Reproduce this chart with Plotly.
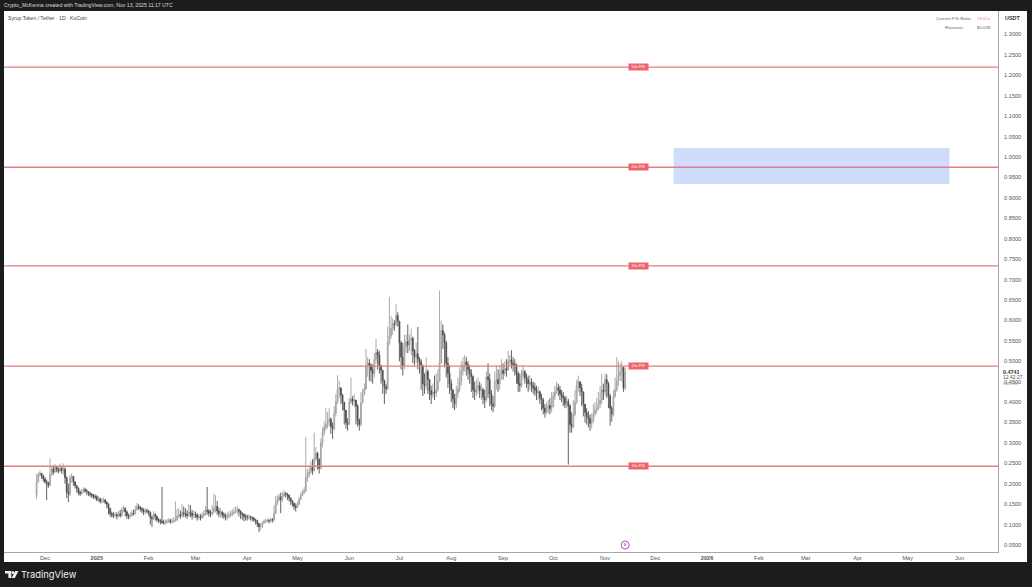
import pandas as pd
import plotly.graph_objects as go

start_date = "2024-11-26"
first_open = 0.172

close_2024 = [
 .205,.222,.226,.219,.212,
 .205,.203,.196,.221,.236,.228,.240,.236,.231,.238,.232,.236,.215,.180,.175,.214,.218,.205,.196,.190,.180,.176,.180,.186,.183,.181,.176,.174,.172,.169,.168]
high_2024 = [
 .224,.228,.232,.226,.222,
 .216,.210,.205,.262,.243,.245,.248,.244,.240,.249,.242,.250,.240,.218,.200,.222,.226,.216,.205,.196,.190,.184,.187,.192,.190,.187,.182,.180,.177,.175,.174]
low_2024 = [
 .163,.203,.218,.212,.205,
 .200,.160,.190,.195,.220,.222,.230,.228,.225,.228,.225,.222,.200,.165,.155,.170,.202,.195,.188,.178,.172,.170,.172,.178,.178,.172,.170,.168,.165,.163,.162]

close_q1 = [
 .160,.163,.157,.158,.160,.155,.150,.140,.127,.123,.122,.124,.121,.126,.122,.135,.140,.131,.122,.119,.122,.128,.126,.136,.144,.142,.139,.136,.131,.134,.133,
 .130,.118,.114,.125,.120,.112,.110,.108,.105,.104,.106,.108,.110,.107,.108,.110,.112,.121,.124,.121,.129,.127,.126,.122,.130,.128,.122,.125,
 .124,.118,.120,.116,.122,.126,.135,.133,.128,.126,.130,.140,.145,.133,.127,.130,.125,.122,.118,.120,.123,.125,.128,.130,.134,.136,.133,.128,.124,.120,.119]
high_q1 = [
 .172,.170,.166,.165,.166,.163,.157,.152,.140,.132,.130,.131,.130,.133,.136,.143,.147,.142,.135,.127,.130,.135,.137,.146,.153,.150,.146,.143,.140,.140,.139,
 .136,.132,.122,.133,.128,.122,.116,.114,.192,.112,.112,.114,.116,.114,.115,.118,.157,.138,.140,.134,.150,.144,.140,.135,.150,.148,.136,.134,
 .132,.128,.126,.126,.130,.135,.145,.192,.138,.136,.148,.175,.172,.158,.142,.140,.134,.130,.127,.130,.132,.134,.137,.142,.144,.146,.140,.135,.130,.128,.126]
low_q1 = [
 .158,.155,.152,.152,.153,.150,.140,.125,.119,.117,.116,.118,.113,.118,.117,.120,.130,.120,.114,.113,.115,.120,.122,.125,.136,.136,.132,.128,.123,.126,.127,
 .122,.100,.094,.112,.110,.106,.104,.100,.102,.100,.100,.102,.104,.102,.103,.104,.106,.108,.116,.114,.118,.118,.118,.114,.120,.118,.112,.116,
 .116,.110,.112,.110,.114,.118,.122,.124,.120,.118,.122,.128,.130,.124,.118,.118,.116,.114,.110,.112,.115,.118,.120,.124,.128,.126,.120,.114,.112,.108,.110]

close_q2 = [
 .118,.119,.117,.116,.112,.110,.102,.095,.096,.103,.108,.110,.110,.109,.112,.111,.128,.152,.160,.168,.161,.170,.176,.174,.172,.165,.158,.152,.145,.142,
 .150,.162,.172,.178,.182,.215,.222,.228,.240,.232,.262,.275,.260,.238,.300,.325,.338,.345,.352,.358,.340,.335,.372,.402,.430,.435,.417,.400,.380,.350,.345,
 .400,.408,.402,.405,.390,.355,.345,.398,.418,.432,.488,.495,.490,.478,.470,.505,.522,.515,.490,.478,.452,.438,.432,.545,.562,.580,.592,.590,.612,.598]
high_q2 = [
 .124,.125,.122,.120,.118,.114,.110,.104,.104,.108,.112,.115,.115,.114,.117,.116,.146,.170,.172,.176,.178,.180,.184,.180,.178,.174,.166,.160,.154,.152,
 .156,.168,.178,.186,.192,.315,.235,.240,.255,.260,.325,.290,.278,.262,.310,.338,.352,.385,.375,.385,.362,.350,.390,.420,.466,.452,.432,.420,.395,.370,.360,
 .410,.460,.415,.420,.405,.395,.360,.425,.432,.445,.530,.510,.505,.495,.492,.520,.555,.530,.525,.490,.470,.455,.445,.585,.658,.610,.605,.600,.640,.620]
low_q2 = [
 .110,.112,.110,.108,.106,.100,.094,.082,.086,.092,.102,.104,.104,.103,.105,.105,.108,.126,.148,.158,.128,.155,.168,.166,.160,.156,.148,.144,.136,.132,
 .142,.148,.160,.170,.175,.180,.205,.215,.225,.222,.230,.255,.235,.225,.235,.290,.318,.330,.335,.340,.322,.310,.330,.365,.395,.410,.395,.380,.345,.335,.330,
 .385,.395,.392,.388,.345,.340,.330,.340,.400,.418,.430,.462,.452,.450,.445,.460,.495,.480,.470,.445,.420,.395,.420,.430,.540,.555,.565,.575,.585,.585]

close_q3 = [
 .545,.510,.490,.535,.548,.540,.552,.556,.525,.510,.518,.505,.498,.490,.445,.440,.475,.455,.428,.418,.425,.422,.430,.450,.495,.575,.565,.545,.495,.470,.445,
 .430,.408,.395,.420,.432,.450,.476,.490,.498,.492,.480,.470,.462,.430,.425,.435,.440,.428,.430,.412,.405,.462,.455,.420,.395,.390,.450,.455,.445,.470,.478,
 .470,.482,.478,.500,.503,.495,.492,.490,.470,.445,.440,.465,.475,.460,.455,.445,.448,.440,.435,.430,.422,.425,.410,.405,.385,.375,.380,.392,.384,.388]
high_q3 = [
 .565,.550,.545,.565,.565,.590,.565,.580,.560,.530,.545,.584,.510,.505,.480,.470,.510,.480,.455,.440,.445,.465,.470,.480,.673,.600,.590,.570,.550,.510,.490,
 .455,.430,.420,.440,.460,.485,.500,.510,.515,.510,.500,.490,.480,.465,.450,.455,.460,.450,.445,.435,.430,.475,.495,.470,.430,.415,.475,.490,.480,.490,.505,
 .495,.500,.505,.525,.515,.527,.510,.505,.495,.475,.470,.480,.490,.478,.470,.465,.465,.458,.450,.447,.440,.438,.428,.420,.410,.395,.400,.405,.410,.425]
low_q3 = [
 .500,.480,.465,.480,.520,.520,.525,.515,.495,.490,.495,.480,.470,.430,.415,.420,.430,.420,.405,.395,.410,.405,.412,.425,.460,.540,.530,.485,.460,.435,.420,
 .400,.385,.380,.385,.410,.425,.440,.465,.475,.465,.455,.445,.425,.410,.405,.415,.420,.410,.405,.395,.385,.400,.410,.390,.380,.375,.385,.430,.425,.430,.455,
 .455,.465,.462,.480,.490,.482,.475,.465,.445,.425,.425,.435,.455,.445,.435,.425,.430,.425,.420,.415,.405,.405,.395,.380,.370,.362,.370,.372,.370,.375]

close_q4 = [
 .415,.425,.435,.430,.420,.415,.410,.395,.402,.390,.345,.340,.370,.400,.440,.450,.435,.425,.395,.375,.365,.360,.348,.352,.372,.380,.385,.395,.405,.430,.425,
 .455,.445,.415,.385,.370,.415,.430,.452,.465,.474,.485,.434,.4741]
high_q4 = [
 .425,.440,.450,.445,.440,.430,.425,.415,.415,.408,.395,.375,.405,.430,.455,.465,.450,.445,.415,.395,.385,.378,.370,.372,.395,.400,.410,.425,.440,.470,.445,
 .470,.468,.450,.420,.390,.430,.460,.510,.500,.495,.500,.470,.485]
low_q4 = [
 .395,.405,.420,.415,.405,.400,.390,.385,.385,.247,.325,.325,.335,.365,.395,.425,.415,.390,.365,.350,.345,.338,.330,.335,.350,.365,.372,.380,.385,.395,.405,
 .415,.410,.385,.342,.352,.365,.410,.425,.440,.452,.450,.425,.430]

price_ticks = [0.05 * i for i in range(1, 27)]
date_ticks = ["2024-12-01","2025-01-01","2025-02-01","2025-03-01","2025-04-01","2025-05-01","2025-06-01","2025-07-01",
              "2025-08-01","2025-09-01","2025-10-01","2025-11-01","2025-12-01","2026-01-01","2026-02-01","2026-03-01",
              "2026-04-01","2026-05-01","2026-06-01"]
date_labels = ["Dec","<b>2025</b>","Feb","Mar","Apr","May","Jun","Jul","Aug","Sep","Oct","Nov","Dec","<b>2026</b>","Feb","Mar","Apr","May","Jun"]

ps_levels = [0.243, 0.488, 0.7335, 0.975, 1.22]
ps_labels = ["10x P/S", "20x P/S", "30x P/S", "40x P/S", "50x P/S"]
label_date = "2025-11-21"
target_zone_dates = ["2025-12-12", "2026-05-26"]
target_zone_prices = [0.934, 1.022]
x_range = ["2024-11-06 12:00", "2026-06-24"]
y_range = [0.0329, 1.3575]
event_date = "2025-11-13"
event_price = 0.05

closes = close_2024 + close_q1 + close_q2 + close_q3 + close_q4
highs = high_2024 + high_q1 + high_q2 + high_q3 + high_q4
lows = low_2024 + low_q1 + low_q2 + low_q3 + low_q4
opens = [first_open] + closes[:-1]
highs = [max(h, o, c) for h, o, c in zip(highs, opens, closes)]
lows = [min(l, o, c) for l, o, c in zip(lows, opens, closes)]
dates = pd.date_range(start_date, periods=len(closes), freq="D")

W, H = 1032, 587
L, R, T, B = 4, 998, 11, 552
DARK = "#1c1c1c"
FONT = "Liberation Sans"


def px(x):
    return (x - L) / (R - L)


def py(y):
    return (B - y) / (B - T)


fig = go.Figure()
fig.add_trace(go.Candlestick(
    x=dates, open=opens, high=highs, low=lows, close=closes,
    increasing=dict(line=dict(color="#a0a0a0", width=0.9), fillcolor="#cfcfcf"),
    decreasing=dict(line=dict(color="#505050", width=0.9), fillcolor="#1a1a1a"),
    whiskerwidth=0, showlegend=False, hoverinfo="skip",
))
fig.add_trace(go.Scatter(
    x=[event_date], y=[event_price], mode="markers+text", text=["B"],
    textposition="middle center", textfont=dict(size=4, color="#9c27b0", family=FONT),
    marker=dict(symbol="circle", size=8, color="white", line=dict(color="#9c27b0", width=0.8)),
    showlegend=False, hoverinfo="skip",
))

shapes = [
    dict(type="rect", xref="paper", yref="paper", x0=px(4), x1=px(1027), y0=py(562), y1=py(11),
         fillcolor="white", line_width=0, layer="below"),
    dict(type="rect", xref="x", yref="y", x0=target_zone_dates[0], x1=target_zone_dates[1],
         y0=target_zone_prices[0], y1=target_zone_prices[1], fillcolor="#cfdcfb", line_width=0, layer="below"),
]
for level in ps_levels:
    shapes.append(dict(type="line", xref="paper", yref="y", x0=0, x1=1, y0=level, y1=level,
                       line=dict(color="#e27f83", width=1.4), layer="above"))


def poly(points):
    return "M" + " L".join(f"{px(a):.5f},{py(b):.5f}" for a, b in points) + " Z"


for pts in ([(5, 571), (11.3, 571), (11.3, 578), (8.4, 578), (8.4, 573.6), (5, 573.6)],
            [(15.2, 571), (18.4, 571), (14.8, 578), (11.6, 578)]):
    shapes.append(dict(type="path", xref="paper", yref="paper", path=poly(pts),
                       fillcolor="#f2f2f2", line_width=0))
shapes.append(dict(type="circle", xref="paper", yref="paper", x0=px(11.6), x1=px(14.2), y0=py(574), y1=py(571),
                   fillcolor="#f2f2f2", line_width=0))

ann = []


def label(x, y, text, size, color="#555555", anchor="left", family=FONT):
    ann.append(dict(xref="paper", yref="paper", x=px(x), y=py(y), text=text, showarrow=False,
                    xanchor=anchor, yanchor="middle", font=dict(size=size, color=color, family=family),
                    xshift=0, yshift=0, borderpad=0))


label(3, 5.5, "Crypto_McKenna created with TradingView.com, Nov 13, 2025 11:17 UTC", 5.15, "#dddddd")
label(7, 17.5, "Syrup Token / Tether · 1D · KuCoin", 5.1, "#444444")
label(973, 19, "Current P/S Ratio:", 4.4, "#666666", "right")
label(992, 19, "19.61x", 4.4, "#e58a8e", "right")
label(965, 27, "Revenue:", 4.4, "#666666", "right")
label(992, 27, "$0.038", 4.4, "#666666", "right")
label(1003.5, 18, "<b>USDT</b>", 5.4, "#333333")
label(1001.5, 371.5, "<b>0.4741</b>", 5.4, "#333333")
label(1001.5, 377.4, "12:42:27", 5, "#555555")
label(1001.5, 384, "0.4639 USDT", 2.6, "#888888")
label(20, 574.5, "TradingView", 9.4, "#f2f2f2", family="Inter")

for level, text in zip(ps_levels, ps_labels):
    ann.append(dict(x=label_date, y=level, xref="x", yref="y", text=text, showarrow=False,
                    font=dict(size=3.8, color="white", family=FONT), bgcolor="#f0636b",
                    width=19, height=6, borderpad=0, xanchor="center", yanchor="middle"))

fig.update_layout(
    width=W, height=H, margin=dict(l=L, r=W - R, t=T, b=H - B, autoexpand=False),
    paper_bgcolor=DARK, plot_bgcolor="white", shapes=shapes, annotations=ann,
    showlegend=False,
    xaxis=dict(type="date", range=x_range, tickmode="array", tickvals=date_ticks, ticktext=date_labels,
               showgrid=False, zeroline=False, showline=True, linecolor="#a6a6a6", linewidth=1,
               ticks="", tickfont=dict(size=5.6, color="#555555", family=FONT), rangeslider=dict(visible=False)),
    yaxis=dict(side="right", range=y_range, tickmode="array", tickvals=price_ticks,
               ticktext=[f"{v:.4f}" for v in price_ticks], showgrid=False, zeroline=False,
               showline=True, linecolor="#a6a6a6", linewidth=1, ticks="", ticklabelstandoff=4,
               tickfont=dict(size=5.6, color="#555555", family=FONT)),
)
fig.write_html("out.html", config=dict(displayModeBar=False),
               post_script="document.body.style.margin='0';document.body.style.background='#1c1c1c';document.body.style.overflow='hidden';")
